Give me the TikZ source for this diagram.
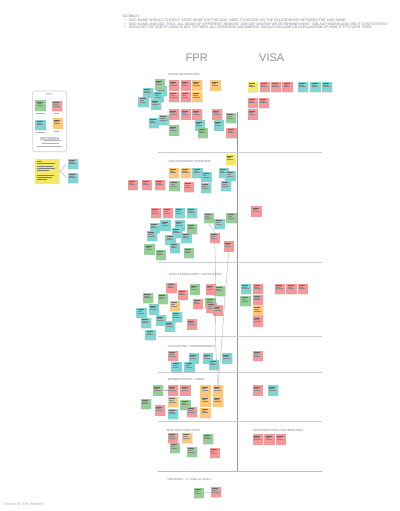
\documentclass[tikz,border=0pt]{standalone}
\usepackage{fontspec}
\setmainfont{Liberation Sans}
\usetikzlibrary{shadows}

\definecolor{notered}{HTML}{F4989A}
\definecolor{noteteal}{HTML}{7ED5D1}
\definecolor{notegreen}{HTML}{94CF95}
\definecolor{noteorange}{HTML}{FFC778}
\definecolor{noteyellow}{HTML}{F4EA62}
\definecolor{boardline}{HTML}{CBCCD5}
\definecolor{boardtext}{HTML}{7C7F8C}
\definecolor{boardblue}{HTML}{8ECBF2}

\tikzset{
  note/.style={fill=#1, minimum size=10.5pt, inner sep=0pt, anchor=north west,
    drop shadow={shadow xshift=0.3pt, shadow yshift=-0.5pt, opacity=0.18},
    path picture={
      \draw[black!60, line width=0.45pt] ([shift={(1.3pt,-1.8pt)}]path picture bounding box.north west) -- ++(6pt,0pt);
      \draw[black!45, line width=0.3pt] ([shift={(1.3pt,-3.4pt)}]path picture bounding box.north west) -- ++(4.5pt,0pt);
      \draw[black!45, line width=0.3pt] ([shift={(1.3pt,-4.8pt)}]path picture bounding box.north west) -- ++(6.5pt,0pt);
    }},
  heading/.style={anchor=west, inner sep=0pt, font=\fontsize{2.9}{3.2}\selectfont, text=boardtext},
  globals/.style={anchor=west, inner sep=0pt, font=\fontsize{3.5}{4}\selectfont, text=boardtext},
  column/.style={inner sep=0pt, font=\fontsize{11}{13}\selectfont, text=boardtext!85},
  divider/.style={draw=boardline, line width=0.9pt},
  link/.style={draw=black!35, line width=0.3pt}
}

\begin{document}
\begin{tikzpicture}[x=1pt, y=-1pt]
  \fill[white] (0,0) rectangle (399,511);
  \useasboundingbox (0,0) rectangle (399,511);

  % globals
  \node[globals] (glob) at (122.3,16.7) {GLOBALS};
  \node[globals] (glob-b1) at (124.3,21) {\textbullet};
  \node[globals] (glob-b2) at (124.3,24.2) {\textbullet};
  \node[globals] (glob-b3) at (124.3,27.4) {\textbullet};
  \node[globals] (glob-t1) at (129,21) {DOC NAME SHOULD CLEARLY STATE WHAT'S IN THE DOC. NEED TO DECIDE ON THE RELATIONSHIP BETWEEN THE LINK NAME,};
  \node[globals] (glob-t2) at (129,24.2) {DOC NAME AND DOC TITLE. ALL KINDS OF DIFFERENT. REMOVE "JOB AID" UNLESS WE DETERMINE WHAT "JOB AID" MEANS AND USE IT CONSISTENTLY};
  \node[globals] (glob-t3) at (129,27.4) {BECAUSE THE CREDIT CARD IS KEY TO TIERS, ALL OVERVIEW DOCUMENTS SHOULD INCLUDE AN EXPLANATION OF HOW IT FITS WITH TIERS};

  \node[column] (fpr) at (196.7,57.3) {FPR};
  \node[column] (visa) at (271.7,57.3) {VISA};

  % board lines
  \draw[draw=boardtext!80, line width=0.7pt] (237.3,111.7) -- (237.3,471.7);
  \foreach \y in {152.7,262.7,336.7,372.3,421.7}
    \draw[divider] (158,\y) -- (322.3,\y);
  \draw[boardblue, line width=1.5pt] (157.7,471.7) -- (322.3,471.7);

  % key
  \draw[boardline, line width=0.6pt, rounded corners=2.5pt] (32.3,91) rectangle (66.7,151.7);
  \node[heading, anchor=center] (key) at (49.5,95) {KEY};
  \node[note=notegreen] (key-g) at (35,100) {};
  \node[note=notered] (key-r) at (51.7,100.7) {};
  \node[note=noteteal] (key-t) at (35,119.3) {};
  \node[note=noteorange] (key-o) at (52.3,118) {};
  \foreach \x/\y/\w in {36/113.3/9, 54/113.3/5, 36/132.7/9, 54/131/5}
    \draw[boardtext!60, line width=0.6pt] (\x,\y) -- ++(\w,0);
  \foreach \i in {0,...,7}
    \draw[boardline, line width=0.3pt] (40+\i*2.2,137.6) rectangle ++(1.4,1.4);
  \fill[boardtext] (57.6,137.6) rectangle ++(1.4,1.4);
  \foreach \y/\a/\b in {140.7/44/61, 143.3/42/59, 146/37/62}
    \draw[boardtext!60, line width=0.6pt] (\a,\y) -- (\b,\y);

  \node[fill=noteyellow, minimum width=24pt, minimum height=24.6pt, inner sep=0pt, anchor=north west,
    drop shadow={shadow xshift=0.3pt, shadow yshift=-0.5pt, opacity=0.18},
    path picture={
      \foreach \k/\w in {1/5,2/18,3/16,4/18,5/12,7/17,8/15,9/10}
        \draw[black!50, line width=0.35pt] ([shift={(1.5pt,-\k*2.3pt)}]path picture bounding box.north west) -- ++(\w pt,0pt);
    }] (key-y) at (35,158.7) {};
  \node[note=noteteal] (key-t1) at (67.7,158.3) {};
  \node[note=noteteal] (key-t2) at (67.7,172.3) {};
  \draw[link] (key-y.east) to[out=0, in=180] (key-t1.west);
  \draw[link] (key-y.east) to[out=0, in=180] (key-t2.west);

  % program overview
  \node[heading] (po) at (168,74.3) {PROGRAM OVERVIEW};
  \foreach \x/\y [count=\i] in {142.7/87.3, 156/85.3, 153/91.7, 138/96.7, 150.7/99, 148.3/117.3, 158.7/114.7, 194.3/120, 213.3/120}
    \node[note=noteteal] (po-t\i) at (\x,\y) {};
  \foreach \x/\y [count=\i] in {154.3/79, 168.7/125, 197.3/127.3, 225.7/112.7}
    \node[note=notegreen] (po-g\i) at (\x,\y) {};
  \foreach \x/\y [count=\i] in {168.7/80, 180.3/80, 168.7/91.7, 180.3/91.7, 168.7/109, 180.3/109, 191.7/109, 211.7/109, 226/127.3}
    \node[note=notered] (po-r\i) at (\x,\y) {};
  \foreach \x/\y [count=\i] in {191.7/80, 191.7/91.7, 210/80}
    \node[note=noteorange] (po-o\i) at (\x,\y) {};

  \node[note=noteyellow] (vp-y1) at (247.3,81.3) {};
  \foreach \x/\y [count=\i] in {259.3/81.3, 270.7/81.3, 282/81.3, 247.3/97.3, 258.7/97.3, 247.3/109}
    \node[note=notered] (vp-r\i) at (\x,\y) {};
  \foreach \x/\y [count=\i] in {297.7/81.3, 310/81.3, 321.7/81.3}
    \node[note=noteteal] (vp-t\i) at (\x,\y) {};

  % sub component overview
  \node[heading] (sc) at (168.3,161.7) {SUB COMPONENT OVERVIEW};
  \node[note=noteyellow] (sc-y1) at (225.3,154) {};
  \foreach \x/\y [count=\i] in {168.3/167.3, 180.7/167.3}
    \node[note=noteorange] (sc-o\i) at (\x,\y) {};
  \foreach \x/\y [count=\i] in {127.3/179.3, 141.3/179.3, 154.7/179.3, 183.3/181.7, 150.7/207.7, 162.3/207.7, 209.3/232.7, 223.3/241}
    \node[note=notered] (sc-r\i) at (\x,\y) {};
  \foreach \x/\y [count=\i] in {192/167.3, 201/171.7, 218.3/167.3, 225/170.7, 200.7/182.7, 220.7/180.7, 174.3/207.7, 186.7/207.3, 149.3/222.3, 160/220, 174.3/220, 146.7/230.7, 171.7/227.3, 181/232.3, 165/234.3, 169.3/242.3, 214/218.7}
    \node[note=noteteal] (sc-t\i) at (\x,\y) {};
  \foreach \x/\y [count=\i] in {169/180.7, 186.7/223.3, 144/244, 155.3/249.3, 183.3/247.3, 203.3/212.7, 226/212.7}
    \node[note=notegreen] (sc-g\i) at (\x,\y) {};
  \node[note=notered] (vs-r1) at (251,206) {};

  % guest enrollment / application
  \node[heading] (ge) at (169,274.7) {GUEST ENROLLMENT / APPLICATION};
  \foreach \x/\y [count=\i] in {189.3/284, 214/285.3, 142.7/292.3, 157.3/293.3, 205/297.3}
    \node[note=notegreen] (ge-g\i) at (\x,\y) {};
  \foreach \x/\y [count=\i] in {166/282.3, 205.3/284, 177.3/289.3, 192.3/298.3, 206/302.7, 212.7/305, 186.7/319}
    \node[note=notered] (ge-r\i) at (\x,\y) {};
  \node[note=noteorange] (ge-o1) at (169.3,300.7) {};
  \foreach \x/\y [count=\i] in {136/307.7, 148.7/304, 171.7/311.7, 155.7/315, 164.7/321, 140.7/317.3, 145/329.3}
    \node[note=noteteal] (ge-t\i) at (\x,\y) {};

  \node[note=noteteal] (vg-t1) at (240.7,283.3) {};
  \node[note=notegreen] (vg-g1) at (240,295.7) {};
  \node[note=noteorange] (vg-o1) at (252.7,305.7) {};
  \foreach \x/\y [count=\i] in {252.7/283.3, 252.7/294.3, 252.7/316, 274.7/283.3, 286/283.3, 297.3/283.3}
    \node[note=notered] (vg-r\i) at (\x,\y) {};

  % accounting / reimbursement
  \node[heading] (ac) at (167.7,346) {ACCOUNTING / REIMBURSEMENT};
  \node[note=notered] (ac-r1) at (167.7,350.7) {};
  \foreach \x/\y [count=\i] in {188.3/353, 202.3/353, 221.7/353, 171/361.7, 184/361.7, 208.3/359.3}
    \node[note=noteteal] (ac-t\i) at (\x,\y) {};
  \node[note=notered] (va-r1) at (252.3,350.7) {};

  % member portal / admin
  \node[heading] (mp) at (167.7,379.3) {MEMBER PORTAL / ADMIN};
  \foreach \x/\y [count=\i] in {152.7/385, 180/399.3, 140.7/398.3}
    \node[note=notegreen] (mp-g\i) at (\x,\y) {};
  \foreach \x/\y [count=\i] in {167.7/385, 180/385, 154.7/405, 186.7/406.7}
    \node[note=notered] (mp-r\i) at (\x,\y) {};
  \foreach \x/\y [count=\i] in {200/385, 212.7/385, 167.7/396.7, 200/396, 212.7/396, 200/407.3}
    \node[note=noteorange] (mp-o\i) at (\x,\y) {};
  \node[note=noteteal] (mp-t1) at (167.7,408.3) {};
  \node[note=notered] (vm-r1) at (252.3,385) {};
  \node[note=noteteal] (vm-t1) at (267.7,385) {};

  % misc best practices / implementation team meetings
  \node[heading] (mb) at (166.7,430.7) {MISC BEST PRACTICES};
  \node[heading] (im) at (252.7,430.7) {IMPLEMENTATION TEAM MEETINGS};
  \foreach \x/\y [count=\i] in {167.7/432.7, 209.3/447.7}
    \node[note=notered] (mb-r\i) at (\x,\y) {};
  \node[note=noteorange] (mb-o1) at (181.7,432.7) {};
  \foreach \x/\y [count=\i] in {169.3/442.7, 202.7/433.3, 186.7/446.7}
    \node[note=notegreen] (mb-g\i) at (\x,\y) {};
  \foreach \x [count=\i] in {252.7, 264, 275.3}
    \node[note=notered] (im-r\i) at (\x,434) {};

  % unknown
  \node[heading] (un) at (167.3,479) {UNKNOWN - i.e. What are these?};
  \node[note=notegreen] (un-g1) at (193.3,487.7) {};
  \node[note=notered] (un-r1) at (210.7,486.7) {};

  % links
  \draw[link] (sc-g6.south) -- (sc-r7.north);
  \draw[link] (sc-r7.south) to[out=-88, in=95] (mp-o2.north);
  \draw[link] (sc-r8.south) to[out=-95, in=85] (mp-o2.north);
  \draw[link] (mp-g1.east) -- (mp-r1.west);
  \draw[link] (un-g1.east) -- (un-r1.west);

  \node[anchor=west, inner sep=0pt, font=\fontsize{4}{5}\selectfont, text=boardtext!60] (credit) at (4.3,504.3) {Drawn by Tim Ameele};
\end{tikzpicture}
\end{document}
